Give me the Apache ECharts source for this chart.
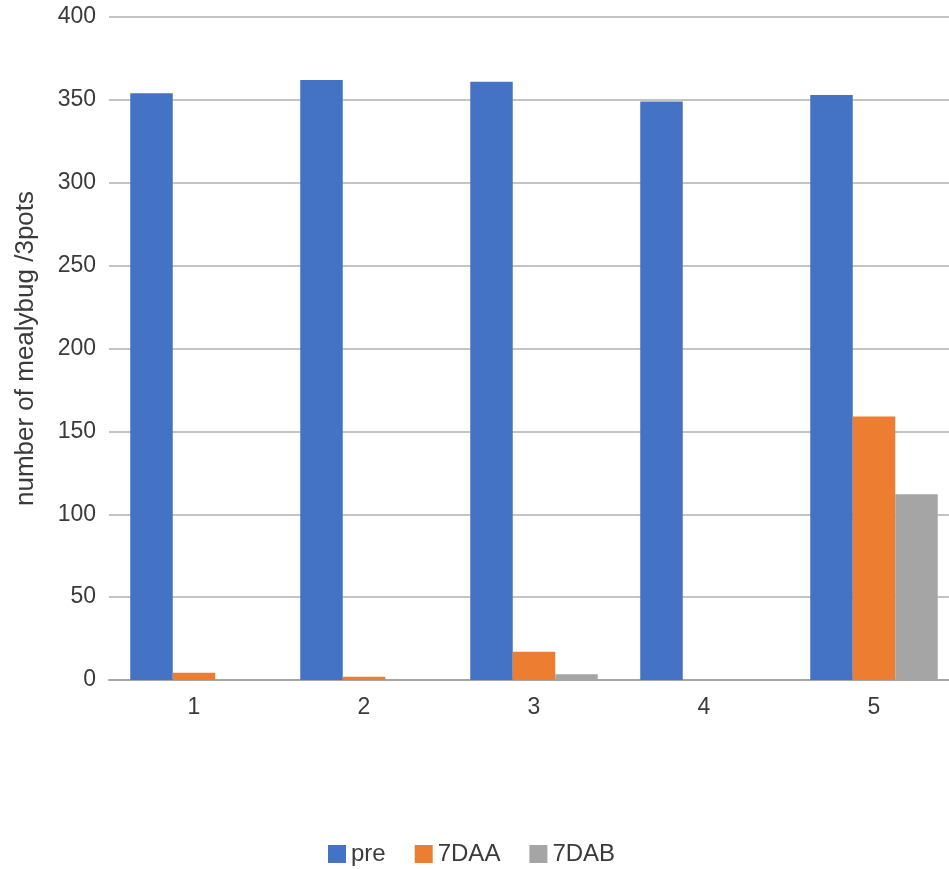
<!DOCTYPE html>
<html>
<head>
<meta charset="utf-8">
<script src="https://cdn.jsdelivr.net/npm/echarts@6/dist/echarts.min.js"></script>
<style>
  html, body { margin: 0; padding: 0; background: #fff; overflow: hidden; }
  /* the plot runs slightly past the right edge of the window */
  #chart { width: 959px; height: 869px; }
</style>
</head>
<body>
<div id="chart"></div>
<script>
// Categories (trial numbers) and mealybug counts per 3 pots
const categories = ['1', '2', '3', '4', '5'];
const seriesNames = ['pre', '7DAA', '7DAB'];
const preValues = [354, 362, 361, 349, 353];
const daaValues = [4.4, 2, 17, 0, 159];
const dabValues = [0, 0, 3.4, 0, 112];
const yTicks = { min: 0, max: 400, interval: 50 };

const colors = ['#4472C4', '#ED7D31', '#A5A5A5'];
const fontFamily = '"Liberation Sans", Arial, sans-serif';
const textColor = '#3a3a3a';

const chart = echarts.init(document.getElementById('chart'), null, { renderer: 'canvas' });

const makeBar = (name, data, color) => ({
  name: name,
  type: 'bar',
  data: data,
  barGap: '0%',
  barCategoryGap: '25%',
  itemStyle: { color: color },
  emphasis: { disabled: true }
});

chart.setOption({
  animation: false,
  color: colors,
  grid: { left: 109, right: 0, top: 17, bottom: 189, containLabel: false },
  legend: {
    data: seriesNames,
    top: 842,
    left: 328,
    padding: 0,
    icon: 'rect',
    itemWidth: 18,
    itemHeight: 18,
    itemGap: 29,
    textStyle: { color: textColor, fontSize: 24, fontFamily: fontFamily }
  },
  xAxis: {
    type: 'category',
    data: categories,
    axisTick: { show: false },
    axisLine: { lineStyle: { color: '#a6a6a6', width: 2 } },
    axisLabel: { color: textColor, fontSize: 23, fontFamily: fontFamily, margin: 16 }
  },
  yAxis: {
    type: 'value',
    min: yTicks.min,
    max: yTicks.max,
    interval: yTicks.interval,
    name: 'number of mealybug /3pots',
    nameLocation: 'middle',
    nameGap: 70,
    nameRotate: 90,
    nameTextStyle: { color: textColor, fontSize: 26, fontFamily: fontFamily },
    axisLine: { show: false },
    axisTick: { show: false },
    axisLabel: { color: textColor, fontSize: 23, fontFamily: fontFamily, margin: 13 },
    splitLine: { lineStyle: { color: '#c4c4c4', width: 2 } }
  },
  series: [
    makeBar(seriesNames[0], preValues, colors[0]),
    makeBar(seriesNames[1], daaValues, colors[1]),
    makeBar(seriesNames[2], dabValues, colors[2])
  ]
});
</script>
</body>
</html>
